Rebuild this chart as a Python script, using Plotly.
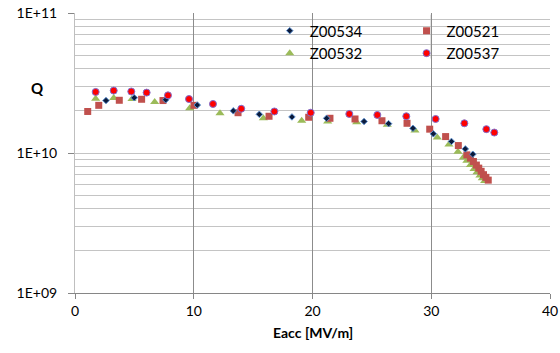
import plotly.graph_objects as go

# ---- data ----
x_534 = [2.61, 4.99, 7.64, 10.3, 13.33, 15.52, 18.27, 21.19, 24.34, 26.41, 28.46, 30.18, 31.7, 32.87, 33.5]
q_534 = [2.37e10, 2.48e10, 2.40e10, 2.20e10, 2.00e10, 1.89e10, 1.81e10, 1.77e10, 1.68e10, 1.62e10,
         1.50e10, 1.37e10, 1.21e10, 1.07e10, 9.8e9]

x_521 = [1.07, 2.0, 3.73, 5.61, 7.41, 10.02, 13.73, 16.34, 19.68, 21.47, 23.58, 25.85, 27.96, 29.87,
         31.21, 32.28, 33.0, 33.3, 33.55, 33.8, 34.0, 34.2, 34.4, 34.6, 34.8]
q_521 = [1.98e10, 2.19e10, 2.38e10, 2.42e10, 2.37e10, 2.19e10, 1.94e10, 1.83e10, 1.80e10, 1.77e10,
         1.75e10, 1.70e10, 1.63e10, 1.48e10, 1.31e10, 1.13e10, 9.7e9, 9.2e9, 8.7e9, 8.2e9,
         7.8e9, 7.4e9, 7.0e9, 6.7e9, 6.4e9]

x_532 = [1.74, 3.26, 4.8, 6.71, 9.66, 12.21, 15.86, 19.09, 21.28, 23.72, 26.3, 28.63, 30.51, 31.49,
         32.25, 32.7, 33.0, 33.3, 33.6, 33.85, 34.1, 34.3, 34.5]
q_532 = [2.44e10, 2.47e10, 2.43e10, 2.31e10, 2.09e10, 1.92e10, 1.77e10, 1.70e10, 1.68e10, 1.66e10,
         1.59e10, 1.45e10, 1.29e10, 1.15e10, 1.02e10, 9.3e9, 8.8e9, 8.2e9, 7.7e9, 7.3e9,
         6.9e9, 6.6e9, 6.3e9]

x_537 = [1.74, 3.26, 4.74, 6.03, 7.83, 9.6, 11.62, 14.0, 16.79, 19.85, 23.1, 25.46, 27.9, 30.37,
         32.79, 34.64, 35.31]
q_537 = [2.73e10, 2.79e10, 2.75e10, 2.70e10, 2.58e10, 2.43e10, 2.24e10, 2.07e10, 1.98e10, 1.94e10,
         1.90e10, 1.87e10, 1.83e10, 1.75e10, 1.63e10, 1.48e10, 1.40e10]

x_ticks = [0, 10, 20, 30, 40]
y_tickvals = [1e9, 1e10, 1e11]
y_ticktext = ["1E+09", "1E+10", "1E+11"]

FONT = "Lato, 'Open Sans', sans-serif"

fig = go.Figure()

fig.add_trace(go.Scatter(
    x=x_532, y=q_532, mode="markers", name="Z00532",
    marker=dict(symbol="triangle-up", size=8, color="#9BBB59", line=dict(width=0)),
    legend="legend", legendrank=2))
fig.add_trace(go.Scatter(
    x=x_521, y=q_521, mode="markers", name="Z00521",
    marker=dict(symbol="square", size=7, color="#C0504D", line=dict(width=0)),
    legend="legend2", legendrank=1))
fig.add_trace(go.Scatter(
    x=x_534, y=q_534, mode="markers", name="Z00534",
    marker=dict(symbol="diamond", size=5, color="#0b1a3a", line=dict(width=1, color="#5b8fd0")),
    legend="legend", legendrank=1))
fig.add_trace(go.Scatter(
    x=x_537, y=q_537, mode="markers", name="Z00537",
    marker=dict(symbol="circle", size=7, color="#FF0000", line=dict(width=1, color="#7F6FD0")),
    legend="legend2", legendrank=2))

grid_h = "#c4c4c4"
grid_v = "#8c8c8c"

fig.update_layout(
    width=560, height=353,
    margin=dict(l=75, r=10, t=13, b=60, autoexpand=False),
    paper_bgcolor="white", plot_bgcolor="white",
    font=dict(family=FONT, size=14, color="#000000"),
    showlegend=True,
    legend=dict(x=0.41, y=0.995, xanchor="left", yanchor="top",
                bgcolor="rgba(0,0,0,0)", font=dict(size=15),
                traceorder="normal"),
    legend2=dict(x=0.698, y=0.995, xanchor="left", yanchor="top",
                 bgcolor="rgba(0,0,0,0)", font=dict(size=15),
                 traceorder="normal"),
    xaxis=dict(range=[0, 40], tickvals=x_ticks, showgrid=True, gridcolor=grid_v, gridwidth=1,
               zeroline=False, showline=True, linecolor="#868686", linewidth=1,
               ticks="outside", ticklen=5, tickcolor="#868686", automargin=False,
               tickfont=dict(size=14, family=FONT)),
    yaxis=dict(type="log", range=[9, 11], tickvals=y_tickvals, ticktext=y_ticktext,
               showgrid=True, gridcolor=grid_h, gridwidth=1,
               zeroline=False, showline=True, linecolor="#bfbfbf", linewidth=1,
               ticks="outside", ticklen=6, tickcolor="#868686", automargin=False,
               ticklabelstandoff=8,
               tickfont=dict(size=14, family=FONT),
               minor=dict(dtick="D1", showgrid=True, gridcolor=grid_h, gridwidth=1, ticks="")),
    annotations=[
        dict(text="<b>Q</b>", xref="paper", yref="paper", x=-0.079, y=0.733,
             xanchor="center", yanchor="middle", showarrow=False,
             font=dict(size=15, family=FONT)),
        dict(text="<b>Eacc [MV/m]</b>", xref="paper", yref="paper", x=0.5, y=-0.142,
             xanchor="center", yanchor="middle", showarrow=False,
             font=dict(size=14, family=FONT)),
    ],
    shapes=[
        dict(type="rect", xref="paper", yref="paper", x0=0.385, x1=0.964, y0=0.8375, y1=0.994,
             fillcolor="white", line=dict(width=0), layer="between"),
        dict(type="line", xref="x", yref="paper", x0=20, x1=20, y0=0.8375, y1=0.994,
             line=dict(color=grid_v, width=1), layer="between"),
        dict(type="line", xref="x", yref="paper", x0=30, x1=30, y0=0.8375, y1=0.994,
             line=dict(color=grid_v, width=1), layer="between"),
    ],
)

fig.write_html("out.html",
               config={"displayModeBar": False},
               post_script="document.body.style.margin='0';document.body.style.overflow='hidden';")
